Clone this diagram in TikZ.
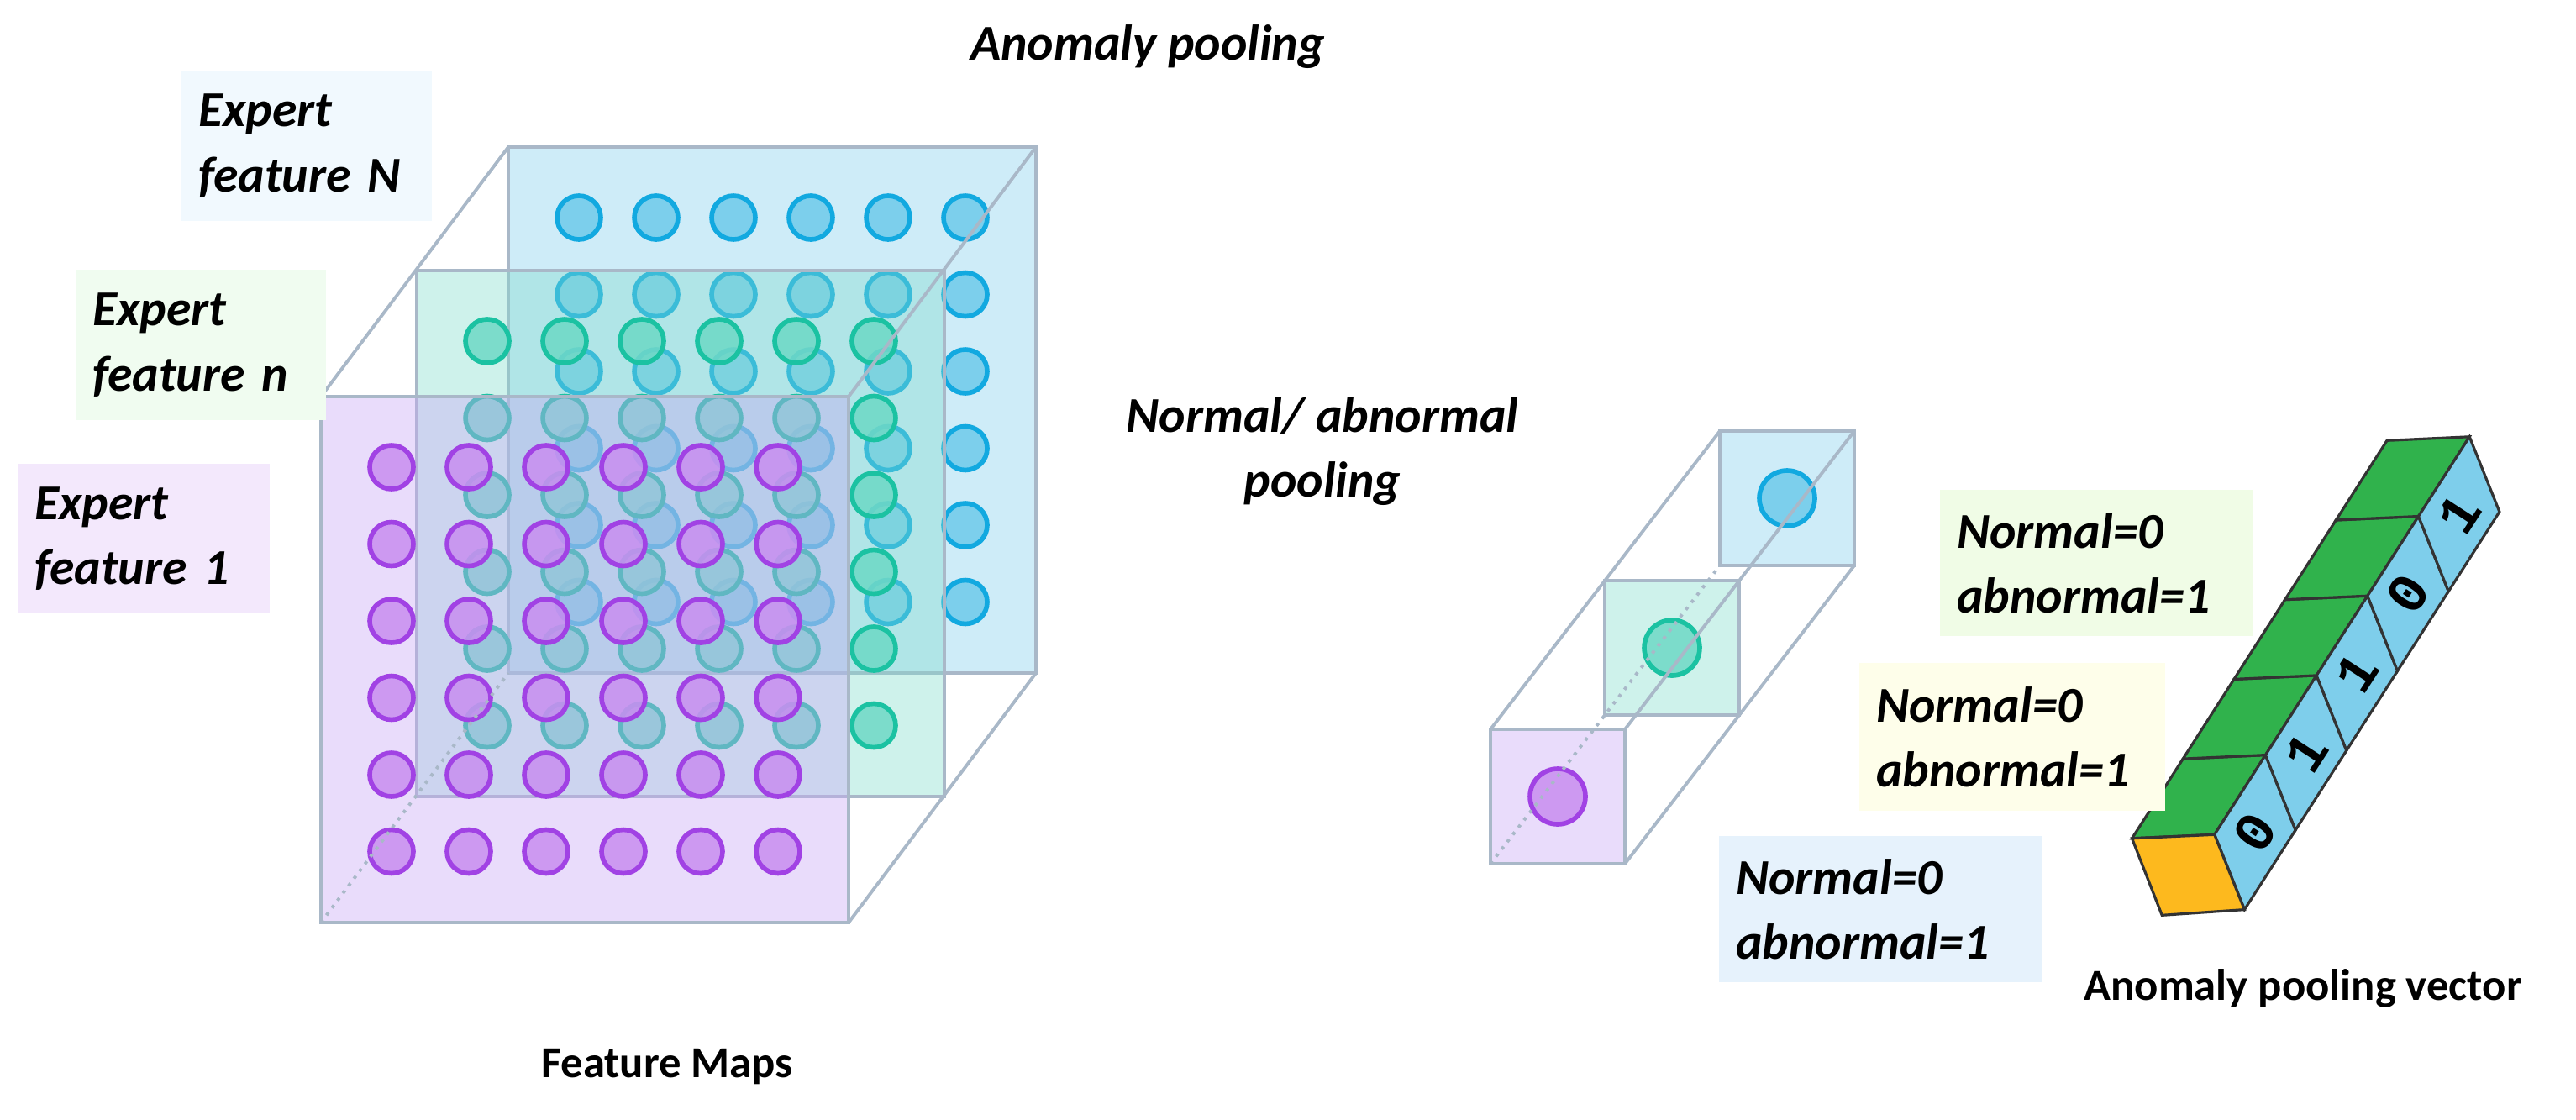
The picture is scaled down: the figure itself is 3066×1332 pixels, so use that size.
\documentclass[tikz,border=0pt]{standalone}
\usepackage{fontspec}
\setmainfont{Carlito}
\newfontfamily\digitfont{Liberation Mono}
\usetikzlibrary{positioning,calc}

\definecolor{faceN}{HTML}{BDE5F5}
\definecolor{facen}{HTML}{7FDCCB}
\definecolor{faceone}{HTML}{C8A8F4}
\definecolor{dotN}{HTML}{6FCBEA}
\definecolor{rimN}{HTML}{12A9E0}
\definecolor{dotn}{HTML}{6DD8C6}
\definecolor{rimn}{HTML}{1BC2A2}
\definecolor{dotone}{HTML}{C88EF0}
\definecolor{rimone}{HTML}{A142E4}
\definecolor{edgegray}{HTML}{A9B8C8}
\definecolor{boxN}{HTML}{F1F9FE}
\definecolor{boxn}{HTML}{F0FCF0}
\definecolor{boxone}{HTML}{F3E8FC}
\definecolor{boxgreen}{HTML}{F0FCE6}
\definecolor{boxyellow}{HTML}{FEFEEA}
\definecolor{boxblue}{HTML}{E6F2FC}
\definecolor{vtop}{HTML}{30B24C}
\definecolor{vside}{HTML}{7ECEEB}
\definecolor{vend}{HTML}{FDB91E}

\tikzset{
  face/.style={draw=edgegray,line width=1.2pt},
  edge/.style={draw=edgegray,line width=1.1pt},
  dot/.style={line width=1.6pt,fill opacity=0.85},
  lab/.style={font=\bfseries\itshape\fontsize{17}{22}\selectfont,align=left},
  box/.style={lab,inner xsep=2mm,inner ysep=0pt},
  cell/.style={draw=black!80,line width=0.9pt},
}

\begin{document}
\begin{tikzpicture}[x=0.1mm,y=-0.1mm]
  \useasboundingbox (0,0) rectangle (3066,1332);
  % feature map layers, back to front
  \foreach \k/\ox/\oy/\fc/\dc/\rc/\op in {N/605/175/faceN/dotN/rimN/0.75, n/496/322/facen/dotn/rimn/0.38, one/382/472/faceone/dotone/rimone/0.4}{
    \coordinate (f\k-tl) at (\ox,\oy);
    \coordinate (f\k-tr) at (\ox+628,\oy);
    \coordinate (f\k-br) at (\ox+628,\oy+626);
    \coordinate (f\k-bl) at (\ox,\oy+626);
    \path[face,fill=\fc,fill opacity=\op] (f\k-tl) rectangle (f\k-br);
    \foreach \i in {0,...,5}
      \foreach \j in {0,...,5}
        \draw[dot,draw=\rc,fill=\dc] (\ox+84+92*\i,\oy+84+91.5*\j) circle (26);
  }
  % cube edges
  \draw[edge] (fone-tl) -- (fN-tl);
  \draw[edge] (fone-tr) -- (fN-tr);
  \draw[edge] (fone-br) -- (fN-br);
  \draw[edge,dotted] (fone-bl) -- (fN-bl);

  % pooled cells
  \foreach \k/\ox/\oy/\fc/\dc/\rc/\op in {N/2047/513/faceN/dotN/rimN/0.75, n/1910/691/facen/dotn/rimn/0.38, one/1774/868/faceone/dotone/rimone/0.4}{
    \coordinate (p\k-tl) at (\ox,\oy);
    \coordinate (p\k-tr) at (\ox+160,\oy);
    \coordinate (p\k-br) at (\ox+160,\oy+160);
    \coordinate (p\k-bl) at (\ox,\oy+160);
    \path[face,fill=\fc,fill opacity=\op] (p\k-tl) rectangle (p\k-br);
    \draw[dot,draw=\rc,fill=\dc] (\ox+80,\oy+80) circle (33);
  }
  \draw[edge] (pone-tl) -- (pN-tl);
  \draw[edge] (pone-tr) -- (pN-tr);
  \draw[edge] (pone-br) -- (pN-br);
  \draw[edge,dotted] (pone-bl) -- (pN-bl);

  % anomaly pooling vector
  \coordinate (vtl) at (2537.5,997.8);
  \coordinate (vtr) at (2635.7,993.3);
  \coordinate (vbr) at (2671.4,1082.6);
  \coordinate (vbl) at (2573.2,1089.3);
  \foreach \i/\b in {0/0,1/1,2/1,3/0,4/1}{
    \draw[cell,fill=vtop] ($(vtl)+\i*(60.7,-94.7)$) -- ($(vtr)+\i*(60.7,-94.7)$)
      -- ($(vtr)+\i*(60.7,-94.7)+(60.7,-94.7)$) -- ($(vtl)+\i*(60.7,-94.7)+(60.7,-94.7)$) -- cycle;
    \draw[cell,fill=vside] ($(vtr)+\i*(60.7,-94.7)$) -- ($(vbr)+\i*(60.7,-94.7)$)
      -- ($(vbr)+\i*(60.7,-94.7)+(60.7,-94.7)$) -- ($(vtr)+\i*(60.7,-94.7)+(60.7,-94.7)$) -- cycle;
    \node[rotate=57,font=\digitfont\bfseries\fontsize{19}{19}\selectfont] (bit\i)
      at ($(vtr)!0.5!(vbr)+\i*(60.7,-94.7)+(30.35,-47.35)$) {\b};
  }
  \draw[cell,fill=vend] (vtl) -- (vtr) -- (vbr) -- (vbl) -- cycle;

  % labels
  \node[lab] (title) at (1366,56) {Anomaly pooling};
  \node[box,fill=boxN,text width=25.8mm,minimum height=17.9mm] (expN) at (365,173.5) {Expert\\feature N};
  \node[box,fill=boxn,text width=25.8mm,minimum height=17.9mm] (expn) at (239,410.5) {Expert\\feature n};
  \node[box,fill=boxone,text width=26mm,minimum height=17.8mm] (expone) at (171,641) {Expert\\feature 1};
  \node[lab,align=center] (pool) at (1574,537) {Normal/ abnormal\\pooling};
  \node[box,fill=boxgreen,text width=33.3mm,minimum height=17.4mm] (labN) at (2495.5,670) {Normal=0\\abnormal=1};
  \node[box,fill=boxyellow,text width=32.4mm,minimum height=17.6mm] (labn) at (2395,877) {Normal=0\\abnormal=1};
  \node[box,fill=boxblue,text width=34.4mm,minimum height=17.4mm] (labone) at (2238,1082) {Normal=0\\abnormal=1};
  \node[font=\bfseries\fontsize{15}{17}\selectfont] (maps) at (794,1270) {Feature Maps};
  \node[font=\bfseries\fontsize{15}{17}\selectfont] (vec) at (2741,1176) {Anomaly pooling vector};
\end{tikzpicture}
\end{document}
